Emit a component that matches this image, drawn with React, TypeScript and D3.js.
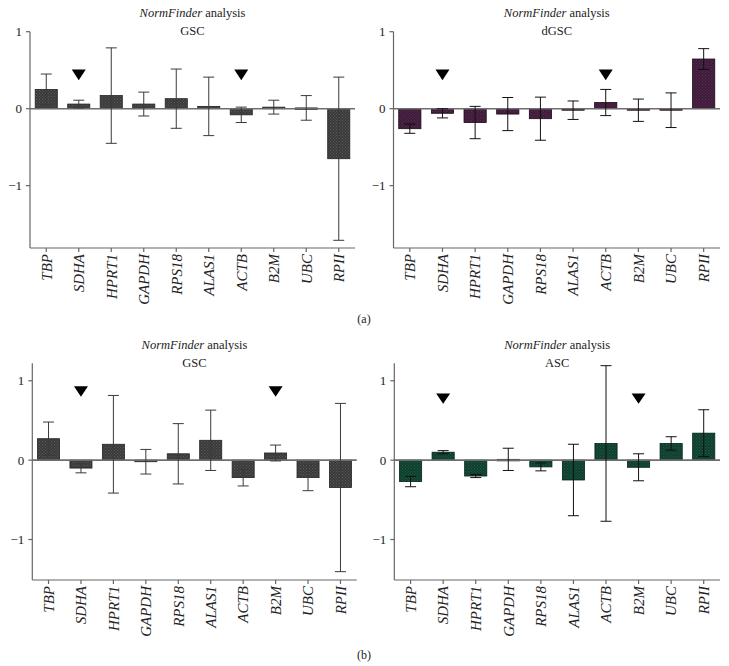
import React from "react";
import * as d3 from "d3";

const genes = ["TBP", "SDHA", "HPRT1", "GAPDH", "RPS18", "ALAS1", "ACTB", "B2M", "UBC", "RPII"];

const gscAValues = [0.25, 0.06, 0.17, 0.06, 0.13, 0.03, -0.08, 0.02, 0.01, -0.65];
const gscAErrors = [0.2, 0.05, 0.62, 0.155, 0.385, 0.38, 0.1, 0.09, 0.16, 1.06];
const dgscValues = [-0.26, -0.06, -0.18, -0.07, -0.13, -0.02, 0.08, -0.02, -0.02, 0.645];
const dgscErrors = [0.06, 0.06, 0.21, 0.215, 0.28, 0.12, 0.17, 0.145, 0.225, 0.135];
const gscBValues = [0.27, -0.1, 0.2, -0.02, 0.08, 0.25, -0.22, 0.09, -0.22, -0.345];
const gscBErrors = [0.21, 0.06, 0.615, 0.155, 0.38, 0.38, 0.105, 0.1, 0.165, 1.06];
const ascValues = [-0.27, 0.1, -0.2, 0.01, -0.085, -0.25, 0.21, -0.09, 0.21, 0.34];
const ascErrors = [0.065, 0.02, 0.02, 0.14, 0.05, 0.45, 0.98, 0.17, 0.085, 0.295];

const markersA = ["SDHA", "ACTB"];
const markersB = ["SDHA", "B2M"];
const yTicks = [-1, 0, 1];

const FONT = '"Liberation Serif", "Times New Roman", serif';
const txt = (size: number, italic = false): React.CSSProperties => ({
  fontFamily: FONT,
  fontSize: size,
  fontStyle: italic ? "italic" : "normal",
});

type PanelProps = {
  id: string;
  name: string;
  values: number[];
  errors: number[];
  markers: string[];
  markerTop: number;
  markerTip: number;
  domain: [number, number];
  x0: number;
  x1: number;
  y0: number;
  y1: number;
  titleY: number;
  fill: string;
  light: string;
  stroke: string;
  errColor: string;
};

function Panel(p: PanelProps) {
  const x = d3.scaleBand<string>().domain(genes).range([p.x0, p.x1]).paddingInner(0.32).paddingOuter(0.16);
  const y = d3.scaleLinear().domain(p.domain).range([p.y1, p.y0]);
  const cx = (g: string) => (x(g) as number) + x.bandwidth() / 2;
  const mid = (p.x0 + p.x1) / 2;
  const pid = "pat-" + p.id;
  return (
    <g>
      <defs>
        <pattern id={pid} width={3} height={3} patternUnits="userSpaceOnUse">
          <rect width={3} height={3} fill={p.fill} />
          <rect x={0} y={0} width={1} height={1} fill={p.light} />
          <rect x={1.5} y={1.5} width={1} height={1} fill={p.light} />
        </pattern>
      </defs>
      <text x={mid} y={p.titleY} textAnchor="middle" style={txt(12.5)} fill="#222">
        <tspan style={{ fontStyle: "italic" }}>NormFinder</tspan> analysis
      </text>
      <text x={mid} y={p.titleY + 18} textAnchor="middle" style={txt(12.5)} fill="#222">
        {p.name}
      </text>
      {genes.map((g, i) => {
        const v = p.values[i];
        const top = y(Math.max(0, v));
        const bot = y(Math.min(0, v));
        return (
          <rect
            key={"b" + g}
            x={x(g)}
            y={top}
            width={x.bandwidth()}
            height={Math.max(1.5, bot - top)}
            fill={`url(#${pid})`}
            stroke={p.stroke}
            strokeWidth={0.8}
          />
        );
      })}
      <line x1={p.x0} x2={p.x1} y1={y(0)} y2={y(0)} stroke="#6e6e6e" strokeWidth={1.6} />
      {genes.map((g, i) => {
        const v = p.values[i];
        const e = p.errors[i];
        const c = cx(g);
        const hi = y(v + e);
        const lo = y(v - e);
        return (
          <g key={"e" + g} stroke={p.errColor} strokeWidth={1}>
            <line x1={c} x2={c} y1={hi} y2={lo} />
            <line x1={c - 5.5} x2={c + 5.5} y1={hi} y2={hi} />
            <line x1={c - 5.5} x2={c + 5.5} y1={lo} y2={lo} />
          </g>
        );
      })}
      {p.markers.map((g) => {
        const c = cx(g);
        const t = y(p.markerTop);
        const b = y(p.markerTip);
        return <path key={"m" + g} d={`M${c - 7},${t}L${c + 7},${t}L${c},${b}Z`} fill="#000" />;
      })}
      <line x1={p.x0} x2={p.x0} y1={p.y0} y2={p.y1} stroke="#666" strokeWidth={1.2} />
      <line x1={p.x0} x2={p.x1} y1={p.y1} y2={p.y1} stroke="#666" strokeWidth={1.2} />
      {yTicks.map((t) => (
        <g key={"t" + t}>
          <line x1={p.x0 - 4} x2={p.x0} y1={y(t)} y2={y(t)} stroke="#666" strokeWidth={1.2} />
          <text x={p.x0 - 8} y={y(t)} dy="0.35em" textAnchor="end" style={txt(13)} fill="#222">
            {t < 0 ? "\u2212" + Math.abs(t) : String(t)}
          </text>
        </g>
      ))}
      {genes.map((g) => {
        const c = cx(g);
        return (
          <g key={"x" + g}>
            <line x1={c} x2={c} y1={p.y1} y2={p.y1 + 4} stroke="#666" strokeWidth={1.2} />
            <text
              transform={`translate(${c},${p.y1 + 6}) rotate(-90)`}
              dy="0.35em"
              textAnchor="end"
              style={txt(15, true)}
              fill="#222"
            >
              {g}
            </text>
          </g>
        );
      })}
    </g>
  );
}

export default function App() {
  return (
    <svg width={729} height={666} style={{ position: "absolute", left: 0, top: 0, background: "#fff" }}>
      <rect width={729} height={666} fill="#fff" />
      <Panel
        id="a1"
        name="GSC"
        values={gscAValues}
        errors={gscAErrors}
        markers={markersA}
        markerTop={0.51}
        markerTip={0.37}
        domain={[-1.81, 1]}
        x0={30}
        x1={355}
        y0={31.7}
        y1={248}
        titleY={17}
        fill="#3a3a3a"
        light="#5a5a5a"
        stroke="#222"
        errColor="#3a3a3a"
      />
      <Panel
        id="a2"
        name="dGSC"
        values={dgscValues}
        errors={dgscErrors}
        markers={markersA}
        markerTop={0.51}
        markerTip={0.37}
        domain={[-1.81, 1]}
        x0={393.5}
        x1={720}
        y0={31.7}
        y1={248}
        titleY={17}
        fill="#3f1a3a"
        light="#553050"
        stroke="#1a0a18"
        errColor="#111"
      />
      <Panel
        id="b1"
        name="GSC"
        values={gscBValues}
        errors={gscBErrors}
        markers={markersB}
        markerTop={0.93}
        markerTip={0.8}
        domain={[-1.51, 1.22]}
        x0={32.3}
        x1={356.7}
        y0={363.3}
        y1={580}
        titleY={349}
        fill="#3a3a3a"
        light="#5a5a5a"
        stroke="#222"
        errColor="#3a3a3a"
      />
      <Panel
        id="b2"
        name="ASC"
        values={ascValues}
        errors={ascErrors}
        markers={markersB}
        markerTop={0.84}
        markerTip={0.71}
        domain={[-1.51, 1.22]}
        x0={394.3}
        x1={720}
        y0={363.3}
        y1={580}
        titleY={349}
        fill="#0d3f2e"
        light="#265a45"
        stroke="#062018"
        errColor="#111"
      />
      <text x={364} y={323} textAnchor="middle" style={txt(12)} fill="#222">
        (a)
      </text>
      <text x={364} y={659} textAnchor="middle" style={txt(12)} fill="#222">
        (b)
      </text>
    </svg>
  );
}
